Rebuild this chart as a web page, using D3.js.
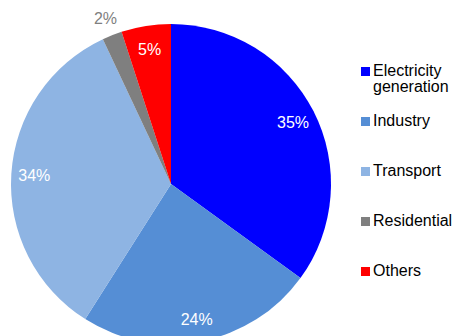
<!DOCTYPE html>
<html>
<head>
<meta charset="utf-8">
<script src="https://cdn.jsdelivr.net/npm/d3@7"></script>
<style>
  body { margin: 0; background: #fff; }
  text { font-family: "Liberation Sans", Arial, sans-serif; }
</style>
</head>
<body>
<div id="container"></div>
<script>
const sectors = ["Electricity generation", "Industry", "Transport", "Residential", "Others"];
const shares = [35, 24, 34, 2, 5];
const colors = ["#0000ff", "#558ed5", "#8eb4e3", "#7f7f7f", "#ff0000"];
const legendLines = [["Electricity", "generation"], ["Industry"], ["Transport"], ["Residential"], ["Others"]];

const width = 452, height = 336;
const cx = 171, cy = 184, radius = 160;

const svg = d3.select('#container')
    .append('svg')
    .attr('width', width)
    .attr('height', height);

const data = sectors.map((s, i) => ({ name: s, value: shares[i], color: colors[i] }));

const pie = d3.pie().sort(null).value(d => d.value);
const arcs = pie(data);

const arc = d3.arc().innerRadius(0).outerRadius(radius);
const labelArc = d3.arc().innerRadius(137).outerRadius(137);
const outerLabelArc = d3.arc().innerRadius(178).outerRadius(178);

const g = svg.append('g')
    .attr('transform', `translate(${cx}, ${cy})`);

g.selectAll('path')
    .data(arcs)
    .enter()
    .append('path')
    .attr('d', arc)
    .attr('fill', d => d.data.color);

// small slices get their label outside the pie
g.selectAll('text.pct')
    .data(arcs)
    .enter()
    .append('text')
    .attr('class', 'pct')
    .attr('transform', d => {
        const c = d.data.value < 3 ? outerLabelArc.centroid(d) : labelArc.centroid(d);
        return `translate(${c[0]}, ${c[1] + 6})`;
    })
    .attr('text-anchor', 'middle')
    .attr('font-size', 16)
    .attr('fill', d => d.data.value < 3 ? '#7f7f7f' : '#fff')
    .text(d => d.data.value + '%');

const legendY = d3.scalePoint()
    .domain(sectors)
    .range([76, 276]);

const legend = svg.append('g')
    .selectAll('g')
    .data(data)
    .enter()
    .append('g')
    .attr('transform', d => `translate(361, ${legendY(d.name)})`);

legend.append('rect')
    .attr('x', 0)
    .attr('y', -9)
    .attr('width', 9)
    .attr('height', 9)
    .attr('fill', d => d.color);

legend.append('text')
    .attr('x', 12)
    .attr('y', 0)
    .attr('font-size', 16)
    .attr('fill', '#000')
    .selectAll('tspan')
    .data((d, i) => legendLines[i])
    .enter()
    .append('tspan')
    .attr('x', 12)
    .attr('dy', (d, i) => i === 0 ? 0 : 16)
    .text(d => d);
</script>
</body>
</html>
